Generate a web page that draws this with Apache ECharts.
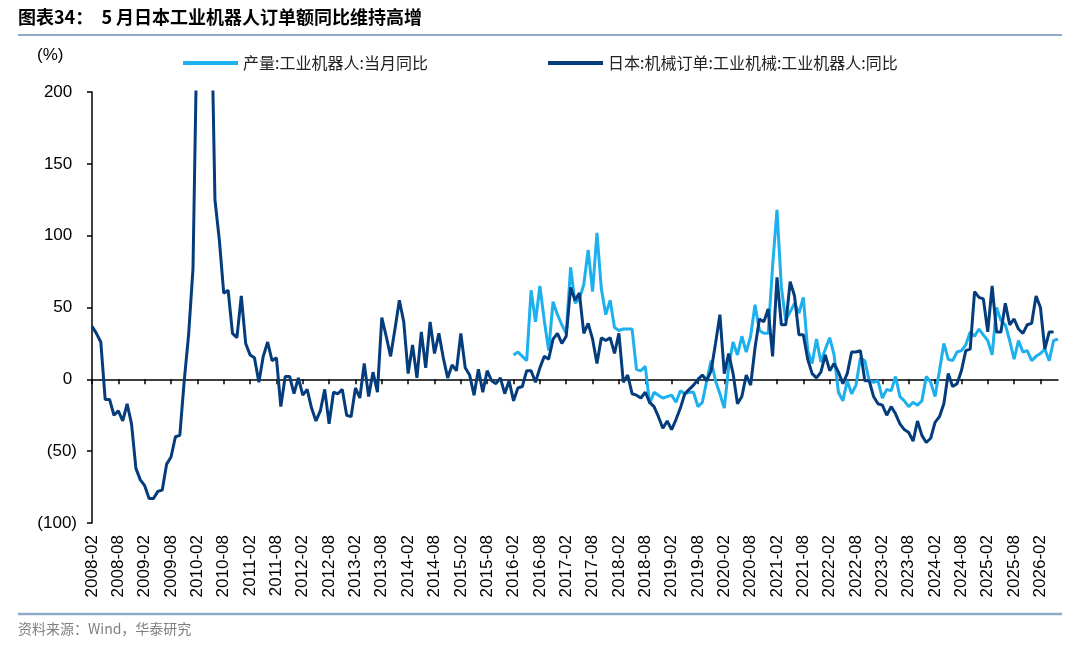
<!DOCTYPE html>
<html>
<head>
<meta charset="utf-8">
<script src="https://cdn.jsdelivr.net/npm/echarts@6/dist/echarts.min.js"></script>
<style>
  html, body { margin: 0; padding: 0; background: #fff; }
  #chart { width: 1080px; height: 647px; }
</style>
</head>
<body>
<div id="chart"></div>
<script>
// 月份标签 2008-02 ~ 2026-06
var months = [];
for (var k = 0; k < 221; k++) {
    var y = 2008 + Math.floor((1 + k) / 12);
    var m = (1 + k) % 12 + 1;
    months.push(y + '-' + (m < 10 ? '0' + m : m));
}

// 日本:机械订单:工业机械:工业机器人:同比 (2008-02 起)
var japanOrders = [
    37, 32, 26, -14, -14, -25, -22, -29, -17, -31,
    -62, -70, -74, -83, -83, -78, -77, -59, -54, -40,
    -39, -1, 31, 77, 260, 330, 310, 290, 125, 97,
    60, 62, 32, 29, 58, 25, 17, 15, -2, 16,
    26, 13, 15, -19, 2, 2, -10, 1, -11, -7,
    -20, -29, -22, -7, -31, -9, -10, -7, -25, -26,
    -6, -13, 11, -12, 5, -9, 43, 30, 16, 35,
    55, 40, 4, 24, 1, 33, 8, 40, 18, 32,
    15, 1, 10, 6, 32, 8, 3, -11, 7, -9,
    6, -1, -3, 1, -10, -1, -15, -6, -5, 6,
    6, -2, 8, 16, 14, 28, 32, 25, 30, 64,
    55, 60, 32, 39, 28, 11, 29, 27, 29, 18,
    32, -2, 3, -10, -11, -13, -9, -16, -19, -26,
    -34, -29, -35, -28, -20, -10, -7, -4, 0, 3,
    -1, 6, 25, 45, 4, 18, 4, -17, -12, 3,
    -4, 22, 42, 40, 49, 16, 71, 38, 38, 68,
    58, 31, 31, 14, 4, 1, 5, 17, 6, 11,
    5, -3, 4, 19, 19, 20, -1, -1, -12, -17,
    -18, -25, -19, -24, -31, -35, -37, -43, -29, -39,
    -44, -41, -30, -26, -17, 4, -5, -3, 6, 20,
    21, 61, 57, 56, 33, 65, 33, 33, 53, 38,
    42, 35, 32, 38, 39, 58, 50, 21, 33, 33
];

// 产量:工业机器人:当月同比 (2016-02 起)
var robotOutputStart = 96;
var robotOutput = [
    17, 19, 16, 13, 62, 40, 65, 41, 20, 54,
    45, 38, 32, 78, 53, 56, 66, 90, 61, 102,
    63, 45, 55, 36, 34, 35, 35, 35, 7, 6,
    9, -17, -9, -11, -13, -12, -11, -16, -8, -10,
    -9, -9, -19, -16, -1, 13, -1, -10, -20, 9,
    26, 17, 30, 19, 30, 52, 34, 32, 32, 79,
    118, 64, 41, 47, 53, 46, 57, 20, 11, 28,
    12, 21, 29, 17, -9, -15, -1, -10, -4, 15,
    13, -1, -2, -1, -13, -7, -8, 2, -12, -15,
    -19, -16, -18, -15, 2, -2, -12, 6, 25, 14,
    13, 19, 20, 24, 33, 30, 35, 31, 27, 17,
    50, 41, 38, 27, 14, 27, 19, 20, 13, 16,
    18, 21, 13, 27, 28
];

var yTicks = [-100, 200, 50];

var outputData = [];
for (var i = 0; i < months.length; i++) {
    var j = i - robotOutputStart;
    outputData.push(j >= 0 && j < robotOutput.length ? robotOutput[j] : '-');
}

var cnFont = '"Noto Sans CJK SC", sans-serif';
var numFont = '"Liberation Sans", Arial, sans-serif';

var chart = echarts.init(document.getElementById('chart'));

var option = {
    animation: false,
    backgroundColor: '#fff',
    grid: { left: 92, right: 22, top: 92, bottom: 124 },
    legend: [
        {
            left: 178, top: 50,
            icon: 'rect', itemWidth: 55, itemHeight: 4,
            textStyle: { fontFamily: cnFont, fontSize: 16, color: '#222' },
            data: ['产量:工业机器人:当月同比']
        },
        {
            left: 543, top: 50,
            icon: 'rect', itemWidth: 55, itemHeight: 4,
            textStyle: { fontFamily: cnFont, fontSize: 16, color: '#222' },
            data: ['日本:机械订单:工业机械:工业机器人:同比']
        }
    ],
    xAxis: [
        {
            type: 'category',
            data: months,
            boundaryGap: false,
            position: 'bottom',
            axisLine: { show: false, onZero: false },
            axisTick: { show: false },
            axisLabel: {
                interval: 5,
                rotate: 90,
                margin: 12,
                fontFamily: numFont,
                fontSize: 17,
                color: '#000'
            },
            splitLine: { show: false }
        },
        {
            type: 'category',
            data: months,
            boundaryGap: false,
            position: 'bottom',
            axisLine: { show: true, onZero: true, lineStyle: { color: '#000', width: 1.5 } },
            axisTick: { show: true, interval: 5, length: 5, lineStyle: { color: '#000', width: 1.5 } },
            axisLabel: { show: false },
            splitLine: { show: false }
        }
    ],
    yAxis: {
        type: 'value',
        min: yTicks[0],
        max: yTicks[1],
        interval: yTicks[2],
        axisLine: { show: true, lineStyle: { color: '#000', width: 1.5 } },
        axisTick: { show: true, length: 5, lineStyle: { color: '#000', width: 1.5 } },
        axisLabel: {
            fontFamily: numFont,
            fontSize: 17,
            color: '#000',
            margin: 15,
            formatter: function (v) { return v < 0 ? '(' + (-v) + ')' : v + ' '; }
        },
        splitLine: { show: false }
    },
    series: [
        {
            name: '产量:工业机器人:当月同比',
            type: 'line',
            xAxisIndex: 0,
            data: outputData,
            symbol: 'none',
            connectNulls: false,
            lineStyle: { color: '#1cb0ee', width: 3 },
            itemStyle: { color: '#1cb0ee' }
        },
        {
            name: '日本:机械订单:工业机械:工业机器人:同比',
            type: 'line',
            xAxisIndex: 0,
            data: japanOrders,
            symbol: 'none',
            clip: true,
            lineStyle: { color: '#043c7c', width: 3 },
            itemStyle: { color: '#043c7c' }
        }
    ],
    graphic: [
        {
            type: 'text', left: 18, top: 8,
            style: {
                text: '图表34：  5 月日本工业机器人订单额同比维持高增',
                fontFamily: cnFont, fontSize: 18, fontWeight: 'bold', fill: '#000'
            }
        },
        {
            type: 'line',
            shape: { x1: 18, y1: 35, x2: 1062, y2: 35 },
            style: { stroke: '#8eaacb', lineWidth: 2 }
        },
        {
            type: 'text', left: 37, top: 47,
            style: { text: '(%)', fontFamily: numFont, fontSize: 17, fill: '#000' }
        },
        {
            type: 'line',
            shape: { x1: 18, y1: 614, x2: 1062, y2: 614 },
            style: { stroke: '#8eaacb', lineWidth: 2.5 }
        },
        {
            type: 'text', left: 18, top: 622,
            style: {
                text: '资料来源：Wind，华泰研究',
                fontFamily: cnFont, fontSize: 14, fill: '#808080'
            }
        }
    ]
};

chart.setOption(option);
</script>
</body>
</html>
